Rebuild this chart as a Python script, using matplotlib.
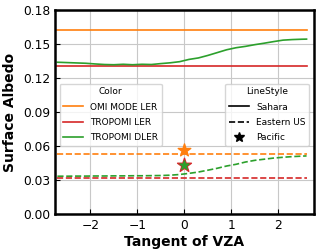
import numpy as np
import matplotlib
matplotlib.use('Agg')
import matplotlib.pyplot as plt
from matplotlib.lines import Line2D

# tangent of VZA grid
tvza = [-2.7, -2.5, -2.3, -2.1, -1.9, -1.7, -1.5, -1.3, -1.1, -0.9, -0.7, -0.5, -0.3, -0.1,
        0.1, 0.3, 0.5, 0.7, 0.9, 1.1, 1.3, 1.5, 1.7, 1.9, 2.1, 2.3, 2.5, 2.6]

# Sahara
sahara_omi = 0.162
sahara_trop_ler = 0.131
sahara_dler = [0.1340, 0.1337, 0.1334, 0.1331, 0.1325, 0.1320, 0.1318, 0.1322, 0.1318, 0.1322,
               0.1320, 0.1328, 0.1335, 0.1345, 0.1365, 0.1378, 0.1400, 0.1425, 0.1450, 0.1468,
               0.1480, 0.1495, 0.1508, 0.1522, 0.1535, 0.1540, 0.1543, 0.1544]

# Eastern US
eus_omi = 0.0535
eus_trop_ler = 0.032
eus_dler = [0.0335, 0.0335, 0.0336, 0.0336, 0.0337, 0.0337, 0.0338, 0.0338, 0.0339, 0.0339,
            0.0340, 0.0341, 0.0344, 0.0350, 0.0360, 0.0372, 0.0388, 0.0405, 0.0425, 0.0440,
            0.0460, 0.0475, 0.0485, 0.0495, 0.0502, 0.0508, 0.0512, 0.0514]

# Pacific (nadir only)
pac_x = 0
pac_omi = 0.0565
pac_trop_ler = 0.0435
pac_dler = 0.0430

c_omi = '#ff7f0e'
c_ler = '#d62728'
c_dler = '#2ca02c'

fig, ax = plt.subplots(figsize=(3.2, 2.52), dpi=100)

ax.plot([tvza[0], tvza[-1]], [sahara_omi, sahara_omi], color=c_omi, lw=1.2)
ax.plot([tvza[0], tvza[-1]], [sahara_trop_ler, sahara_trop_ler], color=c_ler, lw=1.2)
ax.plot(tvza, sahara_dler, color=c_dler, lw=1.2)

ax.plot([tvza[0], tvza[-1]], [eus_omi, eus_omi], color=c_omi, lw=1.2, ls='--')
ax.plot([tvza[0], tvza[-1]], [eus_trop_ler, eus_trop_ler], color=c_ler, lw=1.2, ls='--')
ax.plot(tvza, eus_dler, color=c_dler, lw=1.2, ls='--')

ax.scatter(pac_x, pac_omi, marker='*', s=90, color=c_omi, zorder=5)
ax.scatter(pac_x, pac_trop_ler, marker='*', s=110, color=c_ler, zorder=5)
ax.scatter(pac_x, pac_dler, marker='*', s=45, color=c_dler, zorder=6)

ax.set_xlim(-2.75, 2.75)
ax.set_ylim(0, 0.18)
ax.set_yticks([0, 0.03, 0.06, 0.09, 0.12, 0.15, 0.18])
ax.set_xticks([-2, -1, 0, 1, 2])
ax.grid(True, color='#c8c8c8', lw=0.8)
ax.tick_params(direction='in', labelsize=8.8)
for s in ax.spines.values():
    s.set_linewidth(1.8)
ax.set_xlabel('Tangent of VZA', fontsize=10, fontweight='bold', labelpad=2)
ax.set_ylabel('Surface Albedo', fontsize=10, fontweight='bold', labelpad=4)

h1 = [Line2D([], [], color=c_omi, lw=1.2), Line2D([], [], color=c_ler, lw=1.2),
      Line2D([], [], color=c_dler, lw=1.2)]
leg1 = ax.legend(h1, ['OMI MODE LER', 'TROPOMI LER', 'TROPOMI DLER'], title='Color',
                 fontsize=6.5, title_fontsize=6.5, loc='upper left',
                 bbox_to_anchor=(0.0, 0.662), handlelength=2.2, labelspacing=0.7)
ax.add_artist(leg1)
h2 = [Line2D([], [], color='k', lw=1.2), Line2D([], [], color='k', lw=1.2, ls='--'),
      Line2D([], [], color='k', marker='*', ls='none', ms=7)]
ax.legend(h2, ['Sahara', 'Eastern US', 'Pacific'], title='LineStyle',
          fontsize=6.5, title_fontsize=6.5, loc='upper right',
          bbox_to_anchor=(1.0, 0.662), handlelength=2.2, labelspacing=0.7)

fig.subplots_adjust(left=0.172, right=0.98, top=0.96, bottom=0.15)
fig.savefig('out.png')
